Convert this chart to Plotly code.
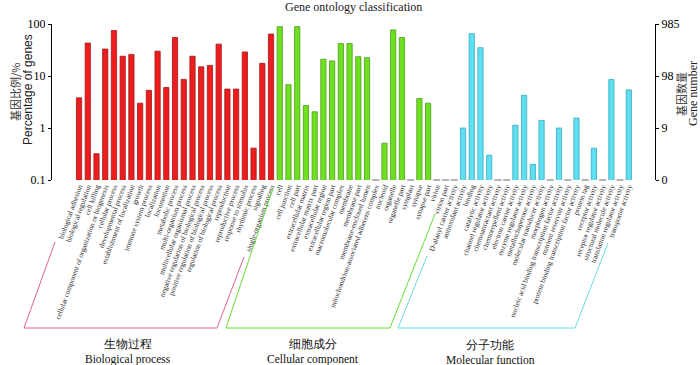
import plotly.graph_objects as go

# ---------------- data ----------------
bp_terms = ["biological adhesion", "biological regulation", "cell killing",
            "cellular component of organization or biogenesis", "cellular process",
            "developmental process", "establishment of localization", "growth",
            "immune system process", "localization", "locomotion", "metabolic process",
            "multi-organism process", "multicellular organismal process",
            "negative regulation of biological process", "positive regulation of biological process",
            "regulation of biological process", "reproduction", "reproductive process",
            "response to stimulus", "rhythmic process", "signaling", "single-organism process"]
bp_pct = [3.8, 43, 0.32, 33, 75, 24, 26, 3.0, 5.3, 30, 6.0, 55, 8.6, 24, 15, 16, 41,
          5.6, 5.6, 29, 0.41, 17.5, 64]

cc_terms = ["cell", "cell junction", "cell part", "extracellular matrix",
            "extracellular matrix part", "extracellular region", "extracellular region part",
            "macromolecular complex", "membrane", "membrane part", "membrane-enclosed lumen",
            "mitochondrion-associated adherens complex", "nucleoid", "organelle",
            "organelle part", "symplast", "synapse", "synapse part", "virion", "virion part"]
cc_pct = [89, 6.8, 89, 2.7, 2.05, 21, 19.5, 42, 42, 23.5, 22.5, 0, 0.51, 77, 55, 0,
          3.7, 3.0, 0, 0]

mf_terms = ["D-alanyl carrier activity", "antioxidant activity", "binding", "catalytic activity",
            "channel regulator activity", "chemoattractant activity", "chemorepellent activity",
            "electron carrier activity", "enzyme regulator activity", "metallochaperone activity",
            "molecular transducer activity", "morphogen activity",
            "nucleic acid binding transcription factor activity", "nutrient reservoir activity",
            "protein binding transcription factor activity", "protein tag", "receptor activity",
            "receptor regulator activity", "structural molecule activity",
            "translation regulator activity", "transporter activity"]
mf_pct = [0, 1.0, 65, 35, 0.3, 0, 0, 1.13, 4.25, 0.2, 1.4, 0, 1.0, 0, 1.55, 0, 0.41, 0,
          8.6, 0, 5.4]

left_ticks = [0.1, 1, 10, 100]
left_ticktext = ["0.1", "1", "10", "100"]
right_ticktext = ["0", "9", "98", "985"]

groups_cn = ["生物过程", "细胞成分", "分子功能"]
groups_en = ["Biological process", "Cellular component", "Molecular function"]

# ---------------- layout geometry ----------------
W, H = 700, 365
L, R, T, B = 52, 655, 24, 180   # plot area in pixels


def px2x(px):
    return (px - L) / (R - L)


def px2y(py):
    return (B - py) / (B - T)


SERIF = "Liberation Serif, Times New Roman, serif"
SANS = "Liberation Sans, Arial, sans-serif"
CJK = "Noto Sans CJK SC, sans-serif"

fig = go.Figure()

styles = [("#ee1c1c", "#a01818"), ("#6fe020", "#4a9e1c"), ("#5ee0f2", "#3aa8c0")]
all_terms = bp_terms + cc_terms + mf_terms
start = 0
for terms, vals, (fill, edge) in zip([bp_terms, cc_terms, mf_terms],
                                     [bp_pct, cc_pct, mf_pct], styles):
    xs = list(range(start, start + len(terms)))
    fig.add_trace(go.Bar(x=xs, y=[v if v > 0 else None for v in vals], width=0.6,
                         marker=dict(color=fill, line=dict(color=edge, width=0.8)),
                         showlegend=False, hoverinfo="x+y"))
    zx = [x for x, v in zip(xs, vals) if v == 0]
    fig.add_trace(go.Scatter(x=zx, y=[0.1] * len(zx), mode="markers",
                             marker=dict(symbol="line-ew", size=5,
                                         line=dict(color="#6a6a6a", width=1)),
                             cliponaxis=False, showlegend=False, hoverinfo="skip"))
    start += len(terms)

# dummy trace for the right axis
fig.add_trace(go.Scatter(x=[None], y=[None], yaxis="y2", showlegend=False, hoverinfo="skip"))

n = len(all_terms)
fig.update_layout(
    width=W, height=H,
    margin=dict(l=L, r=W - R, t=T, b=H - B, autoexpand=False),
    plot_bgcolor="white", paper_bgcolor="white",
    bargap=0.4,
    xaxis=dict(range=[-3.1, n - 1 + 3.0], tickvals=list(range(n)), ticktext=all_terms,
               tickangle=-70, tickfont=dict(family=SERIF, size=7.3, color="#333"),
               showline=False, showgrid=False, zeroline=False, ticks="", automargin=False),
    yaxis=dict(type="log", range=[-1, 2], tickvals=left_ticks, ticktext=left_ticktext,
               showline=True, linecolor="black", linewidth=1, ticks="outside", ticklen=3,
               tickcolor="black", tickfont=dict(family=SERIF, size=12, color="black"),
               showgrid=False, zeroline=False, automargin=False),
    yaxis2=dict(type="log", range=[-1, 2], overlaying="y", side="right",
                tickvals=left_ticks, ticktext=right_ticktext,
                showline=True, linecolor="black", linewidth=1, ticks="outside", ticklen=3,
                tickcolor="black", tickfont=dict(family=SERIF, size=12, color="black"),
                showgrid=False, zeroline=False, automargin=False),
)


def note(text, px, py, font, angle=0):
    return dict(text=text, x=px2x(px), y=px2y(py), xref="paper", yref="paper",
                xanchor="center", yanchor="middle", textangle=angle,
                showarrow=False, font=font)


ann = []
ann.append(note("Gene ontology classification", (L + R) / 2, 7,
                dict(family=SERIF, size=12, color="#222")))
# left axis title
ann.append(note("基因比例/%", 15, 92, dict(family=CJK, size=11, color="#333"), -90))
ann.append(note("Percentage of genes", 28, 90, dict(family=SANS, size=12, color="#222"), -90))
# right axis title
ann.append(note("基因数量", 681, 94, dict(family=CJK, size=11, color="#333"), -90))
ann.append(note("Gene number", 693, 94, dict(family=SERIF, size=12, color="#222"), -90))

# group brackets
brackets = [
    ("#e0609c", [(55, 242), (24, 328), (217, 328), (244, 257)], 128),
    ("#66dd33", [(273, 188), (226, 328), (390, 328), (435, 214)], 313),
    ("#66dde0", [(427, 256), (398, 328), (575, 328), (608, 243)], 490),
]
shapes = []
for (color, pts, cx), cn, en in zip(brackets, groups_cn, groups_en):
    path = "M " + " L ".join(f"{px2x(px):.5f},{px2y(py):.5f}" for px, py in pts)
    shapes.append(dict(type="path", path=path, xref="paper", yref="paper",
                       line=dict(color=color, width=1)))
    ann.append(note(f"{cn}<br>{en}", cx, 352, dict(family=SERIF, size=11.5, color="#111")))

fig.update_layout(annotations=ann, shapes=shapes)
fig.write_html("out.html", post_script="document.body.style.margin='0';",
               config={"displayModeBar": False})
